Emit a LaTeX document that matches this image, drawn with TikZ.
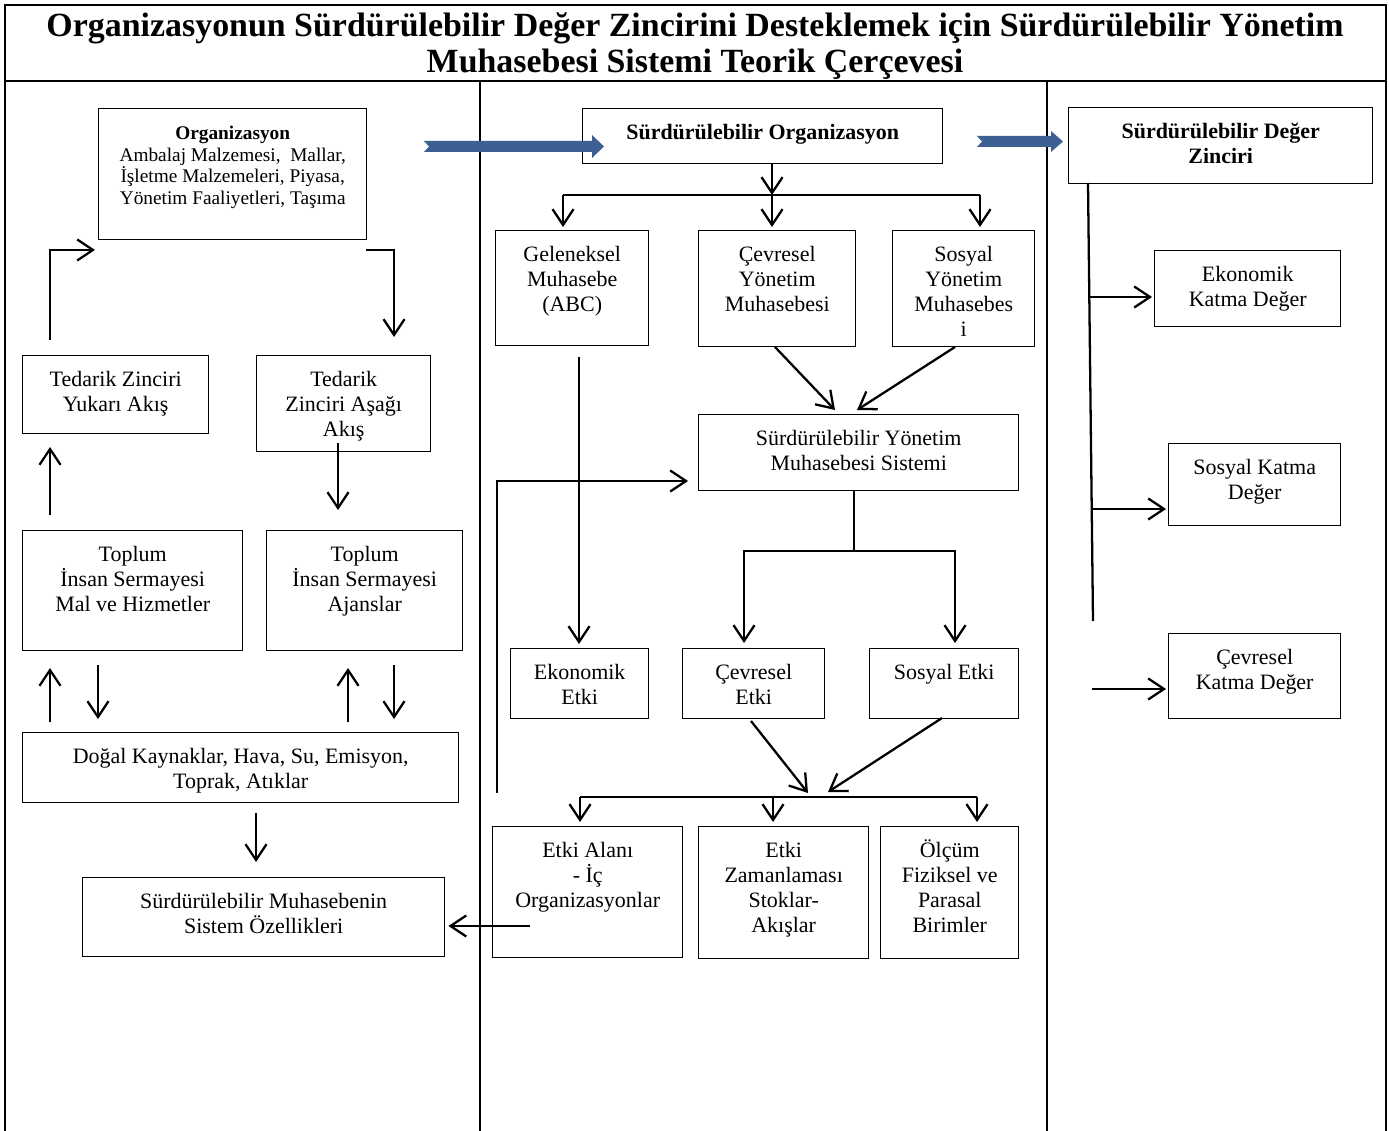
\documentclass[tikz,border=0pt]{standalone}
\usepackage{fontspec}
\setmainfont{Liberation Serif}
\usetikzlibrary{arrows.meta}
\definecolor{arrowblue}{RGB}{60,96,145}
\newlength{\pxu}\setlength{\pxu}{0.02cm}
% box text set from the top of the box
\newcommand{\cellbox}[3]{\parbox[t][#2\pxu][t]{#1\pxu}{\centering\rule{0pt}{17.5pt}#3}}

\begin{document}
\begin{tikzpicture}[x=0.02cm,y=-0.02cm,
    cell/.style={draw,line width=0.8pt,inner sep=0pt,anchor=north west,
      font=\fontsize{12.5}{14.2}\selectfont},
    flow/.style={line width=1.3pt,-{Straight Barb[length=9pt,width=12pt]}},
    link/.style={line width=1.3pt},
    frame/.style={line width=1.2pt}]

  \useasboundingbox (0,0) rectangle (1389,1131);

  % table frame
  \draw[frame] (5,1131) -- (5,5) -- (1386,5) -- (1386,1131);
  \draw[frame] (5,81) -- (1386,81);
  \draw[frame] (480,81) -- (480,1131);
  \draw[frame] (1047,81) -- (1047,1131);

  \node[font=\bfseries\fontsize{19.3}{20}\selectfont,align=center] (title) at (695,46)
    {Organizasyonun Sürdürülebilir Değer Zincirini Desteklemek için Sürdürülebilir Yönetim\\
     Muhasebesi Sistemi Teorik Çerçevesi};

  % left column
  \node[cell] (org) at (98,108) {\cellbox{268}{131}{\fontsize{11}{12.3}\selectfont
    \textbf{Organizasyon}\\Ambalaj Malzemesi,\ \ Mallar,\\İşletme Malzemeleri, Piyasa,\\Yönetim Faaliyetleri, Taşıma}};
  \node[cell] (tzy) at (22,355) {\cellbox{186}{78}{Tedarik Zinciri\\Yukarı Akış}};
  \node[cell] (tza) at (256,355) {\cellbox{174}{96}{Tedarik\\Zinciri Aşağı\\Akış}};
  \node[cell] (tim) at (22,530) {\cellbox{220}{120}{Toplum\\İnsan Sermayesi\\Mal ve Hizmetler}};
  \node[cell] (tia) at (266,530) {\cellbox{196}{120}{Toplum\\İnsan Sermayesi\\Ajanslar}};
  \node[cell] (dogal) at (22,732) {\cellbox{436}{70}{Doğal Kaynaklar, Hava, Su, Emisyon,\\Toprak, Atıklar}};
  \node[cell] (smo) at (82,877) {\cellbox{362}{79}{Sürdürülebilir Muhasebenin\\Sistem Özellikleri}};

  % middle column
  \node[cell] (so) at (582,108) {\cellbox{360}{55}{\textbf{Sürdürülebilir Organizasyon}}};
  \node[cell] (gm) at (495,230) {\cellbox{153}{115}{Geleneksel\\Muhasebe\\(ABC)}};
  \node[cell] (cym) at (698,230) {\cellbox{157}{116}{Çevresel\\Yönetim\\Muhasebesi}};
  \node[cell] (sym) at (892,230) {\cellbox{142}{116}{Sosyal\\Yönetim\\Muhasebes\\i}};
  \node[cell] (symis) at (698,414) {\cellbox{320}{76}{Sürdürülebilir Yönetim\\Muhasebesi Sistemi}};
  \node[cell] (ee) at (510,648) {\cellbox{138}{70}{Ekonomik\\Etki}};
  \node[cell] (ce) at (682,648) {\cellbox{142}{70}{Çevresel\\Etki}};
  \node[cell] (se) at (869,648) {\cellbox{149}{70}{Sosyal Etki}};
  \node[cell] (ea) at (492,826) {\cellbox{190}{131}{Etki Alanı\\- İç\\Organizasyonlar}};
  \node[cell] (ez) at (698,826) {\cellbox{170}{132}{Etki\\Zamanlaması\\Stoklar-\\Akışlar}};
  \node[cell] (ol) at (880,826) {\cellbox{138}{132}{Ölçüm\\Fiziksel ve\\Parasal\\Birimler}};

  % right column
  \node[cell] (sdz) at (1068,107) {\cellbox{304}{76}{\textbf{Sürdürülebilir Değer}\\\textbf{Zinciri}}};
  \node[cell] (ekd) at (1154,250) {\cellbox{186}{76}{Ekonomik\\Katma Değer}};
  \node[cell] (skd) at (1168,443) {\cellbox{172}{82}{Sosyal Katma\\Değer}};
  \node[cell] (ckd) at (1168,633) {\cellbox{172}{85}{Çevresel\\Katma Değer}};

  % block arrows
  \fill[arrowblue] (424,141) -- (592,141) -- (592,135) -- (604,146.5) -- (592,158)
    -- (592,152) -- (424,152) -- (429,146.5) -- cycle;
  \fill[arrowblue] (977,136) -- (1051,136) -- (1051,131) -- (1063,141.5) -- (1051,152)
    -- (1051,147) -- (977,147) -- (982,141.5) -- cycle;

  % free ends of the connectors
  \coordinate (up1) at (50,340);   \coordinate (up1e) at (95,250);
  \coordinate (dn1) at (366,250);  \coordinate (dn1e) at (394,337);
  \coordinate (up2) at (50,515);   \coordinate (up2e) at (50,447);
  \coordinate (dn2) at (338,443);  \coordinate (dn2e) at (338,510);
  \coordinate (up3) at (50,722);   \coordinate (up3e) at (50,668);
  \coordinate (dn3) at (98,665);   \coordinate (dn3e) at (98,719);
  \coordinate (up4) at (348,722);  \coordinate (up4e) at (348,668);
  \coordinate (dn4) at (394,665);  \coordinate (dn4e) at (394,719);
  \coordinate (dn5) at (256,813);  \coordinate (dn5e) at (256,862);
  \coordinate (back) at (530,926);

  \coordinate (soj) at (772,163);  \coordinate (j1) at (772,195);
  \coordinate (j1l) at (563,195);  \coordinate (j1r) at (980,195);
  \coordinate (cyms) at (775,347); \coordinate (cyme) at (835,410);
  \coordinate (syms) at (955,347); \coordinate (syme) at (857,410);
  \coordinate (gms) at (579,357);  \coordinate (gme) at (579,644);
  \coordinate (fb) at (497,793);   \coordinate (fbe) at (688,481);
  \coordinate (j2) at (854,551);
  \coordinate (j2l) at (744,643);  \coordinate (j2r) at (955,643);
  \coordinate (ces) at (751,721);  \coordinate (cee) at (808,793);
  \coordinate (ses) at (942,718);  \coordinate (see) at (828,792);
  \coordinate (j3l) at (580,797);  \coordinate (j3m) at (773,797);  \coordinate (j3r) at (977,797);

  \coordinate (vt) at (1088,183);  \coordinate (vb) at (1093,621);
  \coordinate (r1) at (1088,297);  \coordinate (r2) at (1092,509);  \coordinate (r3) at (1092,689);

  % left connectors
  \draw[flow] (up1) |- (up1e);
  \draw[flow] (dn1) -| (dn1e);
  \draw[flow] (up2) -- (up2e);
  \draw[flow] (dn2) -- (dn2e);
  \draw[flow] (up3) -- (up3e);
  \draw[flow] (dn3) -- (dn3e);
  \draw[flow] (up4) -- (up4e);
  \draw[flow] (dn4) -- (dn4e);
  \draw[flow] (dn5) -- (dn5e);
  \draw[flow] (back) -- ([xshift=3\pxu]back -| smo.east);

  % middle connectors
  \draw[flow] (soj) -- (j1);
  \draw[link] (j1l) -- (j1r);
  \foreach \p in {j1l,j1,j1r}
    \draw[flow] (\p) -- ++(0,32);
  \draw[flow] (cyms) -- (cyme);
  \draw[flow] (syms) -- (syme);
  \draw[flow] (gms) -- (gme);
  \draw[flow] (fb) |- (fbe);
  \draw[link] (symis.south -| j2) -- (j2);
  \draw[flow] (j2) -| (j2l);
  \draw[flow] (j2) -| (j2r);
  \draw[flow] (ces) -- (cee);
  \draw[flow] (ses) -- (see);
  \draw[link] (j3l) -- (j3r);
  \foreach \p in {j3l,j3m,j3r}
    \draw[flow] (\p) -- ++(0,25);

  % right connectors
  \draw[link] (vt) -- (vb);
  \draw[flow] (r1) -- ([xshift=-2\pxu]r1 -| ekd.west);
  \draw[flow] (r2) -- ([xshift=-2\pxu]r2 -| skd.west);
  \draw[flow] (r3) -- ([xshift=-2\pxu]r3 -| ckd.west);
\end{tikzpicture}
\end{document}
